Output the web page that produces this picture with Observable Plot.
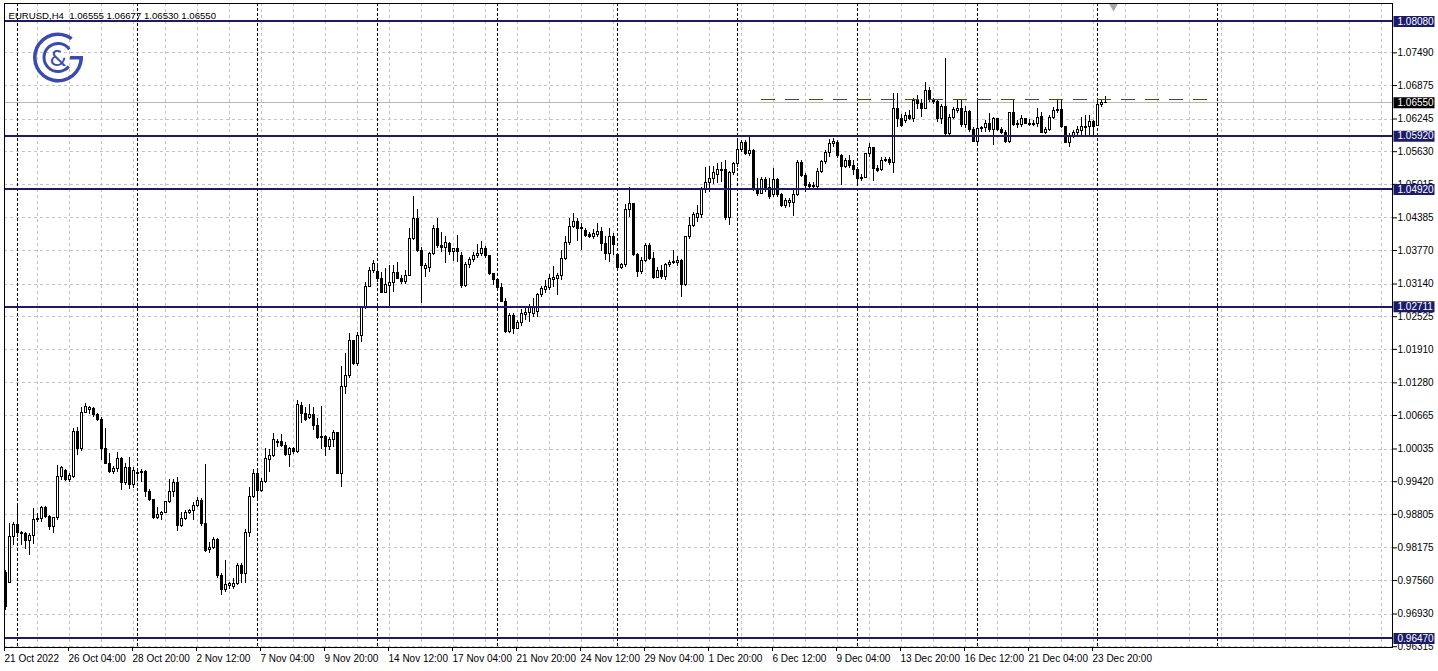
<!DOCTYPE html>
<html><head><meta charset="utf-8">
<script src="https://cdn.jsdelivr.net/npm/d3@7"></script>
<script src="https://cdn.jsdelivr.net/npm/@observablehq/plot@0.6"></script>
<style>
html,body{margin:0;padding:0;background:#fff;}
#chart{position:relative;width:1438px;height:671px;overflow:hidden;}
#chart svg{display:block;}
</style></head><body><div id="chart"></div>
<script>
const symbolTitle = "EURUSD,H4  1.06555 1.06677 1.06530 1.06550";
const opens = [0.9771,0.9752,0.9837,0.9860,0.9846,0.9844,0.9831,0.9839,0.9869,0.9871,0.9892,0.9875,0.9856,0.9873,0.9950,0.9963,0.9946,0.9950,1.0035,1.0003,1.0072,1.0076,1.0078,1.0068,1.0059,1.0004,0.9976,0.9961,0.9965,0.9984,0.9940,0.9967,0.9935,0.9956,0.9959,0.9961,0.9922,0.9907,0.9873,0.9880,0.9884,0.9903,0.9922,0.9939,0.9858,0.9871,0.9884,0.9886,0.9897,0.9905,0.9863,0.9813,0.9818,0.9833,0.9764,0.9739,0.9745,0.9743,0.9750,0.9784,0.9769,0.9845,0.9914,0.9956,0.9925,0.9942,0.9982,0.9991,1.0014,1.0016,1.0010,0.9993,1.0003,0.9997,1.0085,1.0070,1.0061,1.0067,1.0046,1.0025,1.0027,1.0008,1.0020,1.0033,0.9957,1.0121,1.0140,1.0206,1.0163,1.0217,1.0270,1.0309,1.0338,1.0336,1.0324,1.0298,1.0311,1.0315,1.0334,1.0324,1.0317,1.0330,1.0398,1.0437,1.0377,1.0343,1.0345,1.0371,1.0418,1.0386,1.0381,1.0390,1.0375,1.0379,1.0366,1.0311,1.0349,1.0360,1.0366,1.0370,1.0379,1.0366,1.0332,1.0321,1.0307,1.0281,1.0223,1.0253,1.0230,1.0240,1.0255,1.0260,1.0258,1.0262,1.0294,1.0302,1.0307,1.0322,1.0324,1.0330,1.0362,1.0392,1.0422,1.0430,1.0417,1.0413,1.0407,1.0403,1.0407,1.0411,1.0390,1.0371,1.0403,1.0368,1.0345,1.0349,1.0454,1.0464,1.0368,1.0336,1.0358,1.0385,1.0362,1.0326,1.0338,1.0328,1.0349,1.0354,1.0354,1.0358,1.0313,1.0402,1.0424,1.0439,1.0443,1.0490,1.0505,1.0511,1.0520,1.0526,1.0528,1.0439,1.0522,1.0539,1.0567,1.0580,1.0558,1.0565,1.0492,1.0484,1.0509,1.0494,1.0481,1.0509,1.0481,1.0460,1.0467,1.0467,1.0482,1.0541,1.0518,1.0501,1.0499,1.0496,1.0524,1.0543,1.0560,1.0577,1.0580,1.0554,1.0535,1.0546,1.0537,1.0528,1.0511,1.0514,1.0558,1.0569,1.0531,1.0528,1.0545,1.0548,1.0541,1.0644,1.0625,1.0620,1.0631,1.0625,1.0659,1.0652,1.0644,1.0678,1.0661,1.0656,1.0625,1.0648,1.0597,1.0627,1.0640,1.0644,1.0614,1.0637,1.0603,1.0582,1.0605,1.0607,1.0616,1.0603,1.0624,1.0603,1.0599,1.0582,1.0635,1.0614,1.0614,1.0624,1.0616,1.0614,1.0616,1.0629,1.0599,1.0603,1.0627,1.0639,1.0642,1.0609,1.0580,1.0593,1.0599,1.0601,1.0607,1.0609,1.0618,1.0612,1.0650,1.06555];
const highs = [0.9775,0.9863,0.9865,0.9901,0.9848,0.9846,0.9845,0.9892,0.9882,0.9895,0.9895,0.9878,0.9875,0.9972,0.9971,0.9965,0.9957,1.0042,1.0044,1.0082,1.0089,1.0083,1.0082,1.0070,1.0063,1.0042,0.9995,0.9971,0.9997,0.9988,0.9976,0.9988,0.9969,0.9963,0.9965,0.9963,0.9927,0.9908,0.9893,0.9886,0.9905,0.9946,0.9946,0.9950,0.9884,0.9888,0.9890,0.9903,0.9912,0.9910,0.9974,0.9828,0.9837,0.9835,0.9769,0.9794,0.9752,0.9760,0.9788,0.9788,0.9852,0.9931,0.9965,0.9963,0.9948,1.0004,1.0003,1.0033,1.0021,1.0031,1.0016,1.0006,1.0006,1.0095,1.0091,1.0082,1.0087,1.0082,1.0061,1.0083,1.0029,1.0025,1.0038,1.0035,1.0159,1.0183,1.0221,1.0208,1.0223,1.0272,1.0317,1.0345,1.0358,1.0351,1.0336,1.0343,1.0349,1.0349,1.0354,1.0330,1.0339,1.0418,1.0479,1.0454,1.0383,1.0353,1.0373,1.0424,1.0437,1.0411,1.0403,1.0392,1.0381,1.0405,1.0373,1.0354,1.0364,1.0373,1.0388,1.0394,1.0385,1.0368,1.0334,1.0322,1.0315,1.0287,1.0258,1.0258,1.0245,1.0266,1.0270,1.0275,1.0287,1.0296,1.0309,1.0321,1.0332,1.0347,1.0334,1.0377,1.0403,1.0437,1.0447,1.0437,1.0428,1.0418,1.0411,1.0417,1.0428,1.0420,1.0403,1.0418,1.0409,1.0371,1.0353,1.0464,1.0496,1.0465,1.0371,1.0364,1.0390,1.0390,1.0373,1.0345,1.0349,1.0353,1.0358,1.0377,1.0366,1.0360,1.0403,1.0439,1.0449,1.0462,1.0496,1.0533,1.0535,1.0535,1.0541,1.0543,1.0546,1.0526,1.0543,1.0582,1.0584,1.0584,1.0593,1.0567,1.0513,1.0514,1.0514,1.0513,1.0531,1.0513,1.0484,1.0475,1.0475,1.0490,1.0546,1.0546,1.0522,1.0505,1.0505,1.0531,1.0546,1.0565,1.0586,1.0588,1.0584,1.0558,1.0550,1.0556,1.0546,1.0533,1.0520,1.0560,1.0578,1.0571,1.0537,1.0552,1.0552,1.0552,1.0672,1.0672,1.0633,1.0637,1.0640,1.0663,1.0669,1.0661,1.0693,1.0684,1.0663,1.0661,1.0652,1.0738,1.0633,1.0646,1.0661,1.0661,1.0648,1.0640,1.0609,1.0659,1.0610,1.0622,1.0635,1.0627,1.0625,1.0609,1.0603,1.0637,1.0661,1.0622,1.0631,1.0625,1.0624,1.0622,1.0644,1.0637,1.0609,1.0631,1.0646,1.0659,1.0659,1.0610,1.0597,1.0603,1.0610,1.0627,1.0631,1.0631,1.0622,1.0659,1.0659,1.06677];
const lows = [0.9700,0.9750,0.9822,0.9837,0.9822,0.9814,0.9803,0.9824,0.9865,0.9865,0.9873,0.9850,0.9845,0.9869,0.9944,0.9942,0.9940,0.9948,0.9991,0.9999,1.0070,1.0068,1.0063,1.0055,0.9982,0.9974,0.9957,0.9956,0.9959,0.9925,0.9935,0.9927,0.9929,0.9944,0.9940,0.9912,0.9905,0.9871,0.9871,0.9869,0.9882,0.9901,0.9912,0.9848,0.9856,0.9869,0.9880,0.9869,0.9893,0.9858,0.9809,0.9807,0.9814,0.9760,0.9728,0.9733,0.9739,0.9739,0.9747,0.9750,0.9750,0.9837,0.9910,0.9907,0.9922,0.9939,0.9959,0.9988,1.0006,1.0006,0.9989,0.9969,0.9993,0.9995,1.0051,1.0055,1.0059,1.0038,1.0021,1.0003,0.9989,1.0001,1.0006,0.9956,0.9931,1.0106,1.0136,1.0161,1.0159,1.0204,1.0266,1.0307,1.0334,1.0317,1.0296,1.0296,1.0270,1.0298,1.0322,1.0313,1.0313,1.0328,1.0396,1.0373,1.0277,1.0326,1.0336,1.0368,1.0381,1.0373,1.0353,1.0368,1.0356,1.0354,1.0306,1.0307,1.0343,1.0354,1.0362,1.0366,1.0362,1.0330,1.0311,1.0300,1.0279,1.0221,1.0221,1.0219,1.0228,1.0234,1.0245,1.0242,1.0251,1.0251,1.0289,1.0296,1.0302,1.0307,1.0292,1.0321,1.0358,1.0386,1.0418,1.0394,1.0377,1.0402,1.0400,1.0398,1.0402,1.0375,1.0358,1.0354,1.0368,1.0341,1.0341,1.0345,1.0439,1.0366,1.0326,1.0332,1.0354,1.0358,1.0322,1.0324,1.0322,1.0321,1.0345,1.0351,1.0347,1.0289,1.0309,1.0398,1.0420,1.0430,1.0437,1.0484,1.0486,1.0501,1.0503,1.0505,1.0434,1.0424,1.0518,1.0533,1.0561,1.0556,1.0554,1.0488,1.0479,1.0482,1.0486,1.0473,1.0477,1.0477,1.0458,1.0456,1.0458,1.0441,1.0479,1.0514,1.0486,1.0494,1.0492,1.0490,1.0522,1.0539,1.0552,1.0571,1.0550,1.0499,1.0531,1.0531,1.0518,1.0503,1.0507,1.0513,1.0552,1.0507,1.0524,1.0526,1.0543,1.0537,1.0522,1.0609,1.0609,1.0616,1.0622,1.0618,1.0642,1.0627,1.0642,1.0656,1.0652,1.0618,1.0614,1.0593,1.0590,1.0624,1.0635,1.0609,1.0607,1.0599,1.0580,1.0578,1.0599,1.0599,1.0599,1.0575,1.0601,1.0595,1.0578,1.0578,1.0610,1.0607,1.0609,1.0614,1.0610,1.0610,1.0609,1.0597,1.0595,1.0601,1.0624,1.0635,1.0607,1.0578,1.0571,1.0588,1.0593,1.0590,1.0593,1.0593,1.0590,1.0610,1.0646,1.06530];
const closes = [0.9707,0.9837,0.9860,0.9846,0.9844,0.9831,0.9839,0.9869,0.9871,0.9892,0.9875,0.9856,0.9873,0.9950,0.9967,0.9946,0.9952,1.0035,1.0003,1.0072,1.0082,1.0080,1.0068,1.0059,1.0004,0.9976,0.9961,0.9965,0.9984,0.9939,0.9967,0.9935,0.9963,0.9959,0.9961,0.9922,0.9907,0.9873,0.9880,0.9884,0.9903,0.9922,0.9939,0.9858,0.9871,0.9884,0.9886,0.9897,0.9905,0.9863,0.9811,0.9818,0.9833,0.9764,0.9739,0.9747,0.9749,0.9750,0.9784,0.9769,0.9845,0.9914,0.9956,0.9925,0.9942,0.9984,0.9991,1.0020,1.0016,1.0010,0.9993,1.0003,0.9997,1.0087,1.0070,1.0059,1.0067,1.0046,1.0025,1.0027,1.0008,1.0020,1.0033,0.9957,1.0121,1.0140,1.0206,1.0163,1.0217,1.0270,1.0309,1.0338,1.0351,1.0324,1.0298,1.0313,1.0315,1.0334,1.0324,1.0317,1.0330,1.0398,1.0437,1.0377,1.0347,1.0347,1.0371,1.0418,1.0386,1.0381,1.0392,1.0375,1.0379,1.0375,1.0311,1.0349,1.0360,1.0366,1.0370,1.0379,1.0366,1.0332,1.0321,1.0307,1.0281,1.0223,1.0253,1.0230,1.0240,1.0258,1.0260,1.0268,1.0270,1.0294,1.0304,1.0309,1.0324,1.0326,1.0330,1.0362,1.0392,1.0422,1.0430,1.0417,1.0420,1.0405,1.0403,1.0409,1.0411,1.0390,1.0371,1.0403,1.0388,1.0345,1.0349,1.0454,1.0464,1.0368,1.0336,1.0358,1.0385,1.0362,1.0326,1.0338,1.0328,1.0349,1.0354,1.0356,1.0358,1.0313,1.0402,1.0424,1.0443,1.0445,1.0490,1.0505,1.0511,1.0522,1.0528,1.0529,1.0439,1.0522,1.0539,1.0567,1.0580,1.0558,1.0565,1.0490,1.0484,1.0509,1.0490,1.0477,1.0509,1.0481,1.0460,1.0471,1.0471,1.0482,1.0541,1.0518,1.0499,1.0497,1.0496,1.0524,1.0543,1.0560,1.0578,1.0582,1.0554,1.0535,1.0546,1.0537,1.0528,1.0511,1.0514,1.0558,1.0569,1.0531,1.0526,1.0546,1.0548,1.0541,1.0644,1.0625,1.0612,1.0631,1.0625,1.0659,1.0652,1.0644,1.0678,1.0661,1.0656,1.0625,1.0648,1.0597,1.0627,1.0642,1.0644,1.0614,1.0637,1.0603,1.0582,1.0605,1.0607,1.0616,1.0603,1.0624,1.0603,1.0599,1.0582,1.0635,1.0614,1.0616,1.0624,1.0616,1.0614,1.0616,1.0627,1.0599,1.0603,1.0627,1.0640,1.0642,1.0609,1.0580,1.0593,1.0599,1.0603,1.0609,1.0610,1.0618,1.0610,1.0650,1.0654,1.06550];
const timeLabels = ["21 Oct 2022","26 Oct 04:00","28 Oct 20:00","2 Nov 12:00","7 Nov 04:00","9 Nov 20:00","14 Nov 12:00","17 Nov 04:00","21 Nov 20:00","24 Nov 12:00","29 Nov 04:00","1 Dec 20:00","6 Dec 12:00","9 Dec 04:00","13 Dec 20:00","16 Dec 12:00","21 Dec 04:00","23 Dec 20:00"];
const timeLabelBars = [0,16,32,48,64,80,96,112,128,144,160,176,192,208,224,240,256,272];
const priceTicks = [1.07490,1.06875,1.06245,1.05630,1.05015,1.04385,1.03770,1.03140,1.02525,1.01910,1.01280,1.00665,1.00035,0.99420,0.98805,0.98175,0.97560,0.96930,0.96315];
const levels = [1.08080,1.05920,1.04920,1.02711,0.96470];
const lastPrice = 1.06550;
const dashedLevel = 1.0662;
const dashedFromBar = 189, dashedToBar = 301;
const weekStartBars = [3,33,63,93,123,153,183,213,243,273,303];
const gridBars = d3.range(8, 347, 8);
const visiblePrice = [0.9630, 1.084185];
const visibleBars = [-0.25, 346.75];
const shiftMarkerBar = 277;

const bars = opens.map((o, i) => ({i, open: o, high: highs[i], low: lows[i], close: closes[i]}));
const navy = "#1b1b6a";
const gridColor = "#c4c4c4";
const crisp = "crispEdges";
const boxSymbol = {draw(ctx) { ctx.moveTo(-20.5, -5.5); ctx.lineTo(20.5, -5.5); ctx.lineTo(20.5, 5.5); ctx.lineTo(-20.5, 5.5); ctx.closePath(); }};

const chart = Plot.plot({
  width: 1438, height: 671,
  marginLeft: 4, marginRight: 46, marginTop: 3, marginBottom: 24,
  x: {domain: visibleBars, axis: null},
  y: {domain: visiblePrice, axis: null},
  style: {fontFamily: "'Liberation Sans', Arial, sans-serif", fontSize: "10px", background: "#fff", color: "#000", overflow: "visible"},
  marks: [
    Plot.ruleX(gridBars, {x: d => d, stroke: gridColor, strokeDasharray: "3,3", shapeRendering: crisp}),
    Plot.ruleY(priceTicks, {y: d => d, stroke: gridColor, strokeDasharray: "3,3", shapeRendering: crisp}),
    Plot.ruleX(weekStartBars, {x: d => d, stroke: "#000", strokeDasharray: "3,2", shapeRendering: crisp}),
    Plot.ruleY([lastPrice], {y: d => d, stroke: "#b8b8b8", shapeRendering: crisp}),
    Plot.ruleX(bars, {x: "i", y1: "low", y2: "high", stroke: "#000", shapeRendering: crisp}),
    Plot.rect(bars, {x1: d => d.i - 0.25, x2: d => d.i + 0.25, y1: "open", y2: "close",
      fill: d => d.close >= d.open ? "#fff" : "#000", stroke: "#000", strokeWidth: 1, shapeRendering: crisp}),
    Plot.ruleY([dashedLevel], {y: d => d, x1: dashedFromBar, x2: dashedToBar, stroke: "#3b5326", strokeDasharray: "14,10", shapeRendering: crisp}),
    Plot.ruleY(levels, {y: d => d, stroke: navy, strokeWidth: 2, shapeRendering: crisp}),
    Plot.frame({stroke: "#000", shapeRendering: crisp}),
    Plot.axisY(priceTicks, {anchor: "right", tickSize: 4, tickPadding: 1, tickFormat: d => d.toFixed(5), label: null, fontSize: 10}),
    Plot.axisX(timeLabelBars, {anchor: "bottom", tickSize: 4, tickPadding: 3, textAnchor: "start", dx: -1, tickFormat: d => timeLabels[timeLabelBars.indexOf(d)], label: null, fontSize: 10}),
    Plot.dot(levels, {y: d => d, frameAnchor: "right", dx: 21.5, symbol: boxSymbol, fill: navy, stroke: "none"}),
    Plot.text(levels, {y: d => d, frameAnchor: "right", dx: 5, textAnchor: "start", text: d => d.toFixed(5), fill: "#fff", fontSize: 10}),
    Plot.dot([lastPrice], {y: d => d, frameAnchor: "right", dx: 21.5, symbol: boxSymbol, fill: "#000", stroke: "none"}),
    Plot.text([lastPrice], {y: d => d, frameAnchor: "right", dx: 5, textAnchor: "start", text: d => d.toFixed(5), fill: "#fff", fontSize: 10}),
    Plot.text([symbolTitle], {frameAnchor: "top-left", dx: 4, dy: 9, textAnchor: "start", text: d => d, fill: "#000", fontSize: 9.6}),
    Plot.dot([shiftMarkerBar], {x: d => d, frameAnchor: "top", dy: 3, symbol: "triangle", rotate: 180, r: 3.2, fill: "#a8a8a8", stroke: "none"})
  ]
});
document.getElementById("chart").appendChild(chart);

// logo
const svg = d3.select(chart);
const logo = svg.append("g").attr("transform", "translate(58,57.5)");
const logoColor = "#3a4bb0";
logo.append("path").attr("d", d3.arc()({innerRadius: 21.5, outerRadius: 25, startAngle: Math.PI / 2, endAngle: 2 * Math.PI + Math.PI / 5})).attr("fill", logoColor);
logo.append("path").attr("d", d3.arc()({innerRadius: 12.5, outerRadius: 15.5, startAngle: Math.PI * 0.72, endAngle: 2 * Math.PI + Math.PI * 0.3})).attr("fill", logoColor);
logo.append("rect").attr("x", 12).attr("y", -1.5).attr("width", 13).attr("height", 3.5).attr("fill", logoColor);
logo.append("text").attr("x", 0).attr("y", 8).attr("text-anchor", "middle").attr("font-family", "'DejaVu Sans', sans-serif").attr("font-size", 22).attr("fill", logoColor).text("&");
</script></body></html>
